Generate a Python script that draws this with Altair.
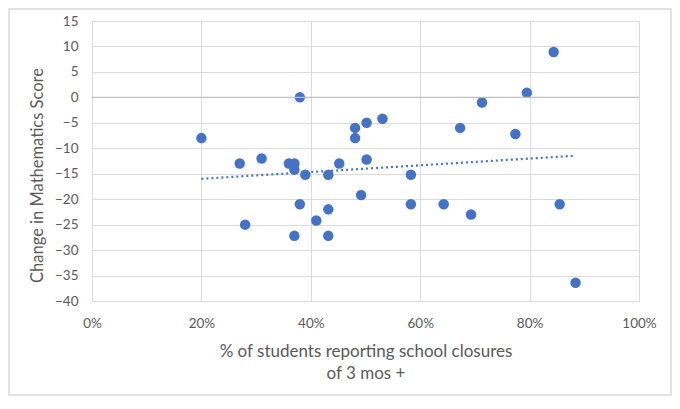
import altair as alt
import pandas as pd

closure_share = [0.20, 0.27, 0.28, 0.31, 0.36, 0.37, 0.37, 0.37, 0.38, 0.38, 0.39,
                 0.41, 0.432, 0.432, 0.432, 0.452, 0.481, 0.481, 0.492, 0.502, 0.502,
                 0.531, 0.583, 0.583, 0.643, 0.673, 0.693, 0.713, 0.774, 0.795,
                 0.844, 0.855, 0.884]
math_change = [-8, -13, -25, -12, -13, -13, -14.2, -27.2, 0, -21, -15.2, -24.2, -15.2,
               -22, -27.2, -13, -6, -8, -19.2, -5, -12.2, -4.2, -15.2, -21, -21, -6,
               -23, -1, -7.2, 0.9, 8.9, -21, -36.4]

x_ticks = [0, 0.2, 0.4, 0.6, 0.8, 1.0]
y_ticks = list(range(-40, 20, 5))

df = pd.DataFrame({"share": closure_share, "change": math_change})

W, H = 547, 280
PL, PT, PR, PB = 84, 13, 33, 95

FONT = "Lato"
GRAY = "#595959"
BLUE = "#4472C4"

x_enc = alt.X(
    "share:Q",
    scale=alt.Scale(domain=[0, 1], nice=False),
    axis=alt.Axis(
        values=x_ticks, format="%", grid=True, gridColor="#d9d9d9",
        domain=False, ticks=False, labelPadding=15, labelFontSize=13.5,
        labelColor=GRAY, labelFont=FONT, labelFlush=False,
        title=["% of students reporting school closures", "of 3 mos +"],
        titleFontSize=17, titleFont=FONT, titleColor=GRAY,
        titleFontWeight="normal", titlePadding=14, titleLineHeight=22,
    ),
)
y_enc = alt.Y(
    "change:Q",
    scale=alt.Scale(domain=[-40, 15], nice=False, zero=False),
    axis=alt.Axis(
        values=y_ticks, grid=True, gridColor="#d9d9d9", domain=False,
        ticks=False, labelPadding=14, labelFontSize=13.5, labelColor=GRAY,
        labelFont=FONT, labelFlush=False, labelOverlap=False,
        title="Change in Mathematics Score", titleFontSize=16.5,
        titleFont=FONT, titleColor=GRAY, titleFontWeight="normal",
        titlePadding=9, titleY=154,
    ),
)

border = alt.Chart(alt.Data(values=[{}])).mark_rect(
    filled=False, stroke="#d9d9d9", strokeWidth=1.5
).encode(
    x=alt.value(-PL + 1), x2=alt.value(W + PR - 1),
    y=alt.value(-PT + 1), y2=alt.value(H + PB - 1),
)

zero_line = alt.Chart(pd.DataFrame({"change": [0]})).mark_rule(
    color="#bfbfbf", strokeWidth=1.3
).encode(y=y_enc)

points = alt.Chart(df).mark_circle(size=110, color=BLUE, opacity=1).encode(
    x=x_enc, y=y_enc
)

trend = alt.Chart(df).transform_regression("share", "change").mark_line(
    color=BLUE, strokeWidth=2.2, strokeDash=[2, 3]
).encode(x=x_enc, y=y_enc)

chart = alt.layer(border, points, zero_line, trend).properties(
    width=W, height=H,
    autosize=alt.AutoSizeParams(type="none"),
    padding={"left": PL, "top": PT, "right": PR, "bottom": PB},
).configure_view(stroke=None).configure(background="white")

chart.save("out.html", embed_options={"renderer": "svg", "actions": False})
